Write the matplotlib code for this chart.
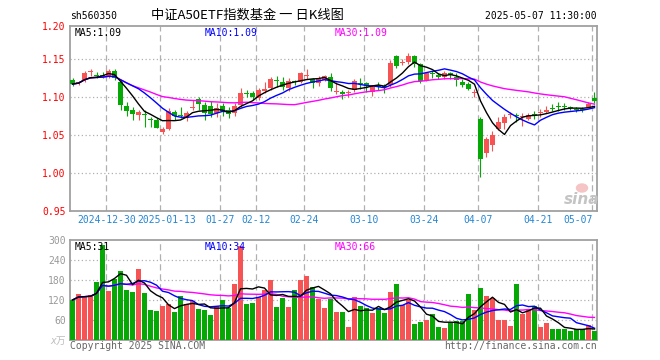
import numpy as np
import pandas as pd
import matplotlib
matplotlib.use('Agg')
import matplotlib.pyplot as plt
from matplotlib.transforms import blended_transform_factory, ScaledTranslation
from matplotlib.patches import Ellipse

# ---------------- data ----------------
opens = [1.1219,1.1184,1.1228,1.1325,1.1285,1.1285,1.1268,1.1342,1.1193,1.0882,
         1.0829,1.0763,1.0768,1.0711,1.0697,1.0544,1.0579,1.0803,1.0754,1.0719,
         1.0860,1.0974,1.0895,1.0882,1.0785,1.0882,1.0829,1.0785,1.0895,1.1053,
         1.1048,1.0991,1.1083,1.1114,1.1219,1.1193,1.1114,1.1211,1.1197,1.1281,
         1.1232,1.1180,1.1228,1.1259,1.1066,1.1070,1.1057,1.1088,1.1189,1.1189,
         1.1070,1.1158,1.1140,1.1162,1.1539,1.1452,1.1465,1.1544,1.1434,1.1228,
         1.1311,1.1294,1.1263,1.1311,1.1268,1.1202,1.1175,1.1057,1.0711,1.0263,
         1.0368,1.0579,1.0653,1.0759,1.0759,1.0737,1.0711,1.0776,1.0794,1.0798,
         1.0855,1.0877,1.0877,1.0864,1.0842,1.0842,1.0873,1.0991]
highs = [1.1250,1.1215,1.1342,1.1368,1.1325,1.1333,1.1368,1.1368,1.1224,1.0939,
         1.0873,1.0829,1.0829,1.0741,1.0719,1.0610,1.0860,1.0829,1.0873,1.0816,
         1.0961,1.1004,1.0939,1.0947,1.0917,1.0925,1.0873,1.0917,1.1114,1.1092,
         1.1083,1.1123,1.1202,1.1259,1.1276,1.1268,1.1254,1.1224,1.1333,1.1364,
         1.1246,1.1276,1.1289,1.1311,1.1202,1.1092,1.1092,1.1237,1.1254,1.1202,
         1.1158,1.1202,1.1171,1.1487,1.1557,1.1500,1.1583,1.1557,1.1452,1.1333,
         1.1342,1.1320,1.1342,1.1333,1.1311,1.1232,1.1202,1.1101,1.0732,1.0478,
         1.0553,1.0732,1.0776,1.0807,1.0785,1.0785,1.0785,1.0811,1.0838,1.0882,
         1.0904,1.0930,1.0921,1.0886,1.0868,1.0868,1.0930,1.1061]
lows = [1.1145,1.1162,1.1202,1.1281,1.1246,1.1246,1.1246,1.1224,1.0829,1.0754,
        1.0697,1.0697,1.0610,1.0610,1.0588,1.0509,1.0566,1.0697,1.0719,1.0684,
        1.0829,1.0829,1.0697,1.0741,1.0741,1.0750,1.0724,1.0750,1.0873,1.1004,
        1.0961,1.0961,1.1048,1.1092,1.1136,1.1092,1.1083,1.1158,1.1189,1.1232,
        1.1123,1.1145,1.1211,1.1083,1.1035,1.0969,1.1004,1.1070,1.1101,1.1070,
        1.1013,1.1092,1.1057,1.1136,1.1377,1.1421,1.1434,1.1399,1.1189,1.1215,
        1.1246,1.1232,1.1232,1.1232,1.1149,1.1136,1.1092,1.1004,0.9952,1.0215,
        1.0294,1.0566,1.0583,1.0719,1.0675,1.0623,1.0697,1.0706,1.0732,1.0785,
        1.0820,1.0820,1.0829,1.0829,1.0807,1.0798,1.0864,1.0917]
closes = [1.1171,1.1193,1.1316,1.1333,1.1276,1.1276,1.1342,1.1246,1.0895,1.0816,
          1.0781,1.0803,1.0759,1.0702,1.0596,1.0579,1.0816,1.0750,1.0746,1.0789,
          1.0868,1.0908,1.0785,1.0776,1.0851,1.0816,1.0776,1.0882,1.1048,1.1044,
          1.0996,1.1092,1.1105,1.1237,1.1211,1.1136,1.1211,1.1193,1.1316,1.1289,
          1.1180,1.1232,1.1272,1.1114,1.1075,1.1035,1.1066,1.1211,1.1175,1.1145,
          1.1132,1.1127,1.1132,1.1452,1.1408,1.1461,1.1544,1.1434,1.1211,1.1311,
          1.1303,1.1259,1.1320,1.1285,1.1219,1.1162,1.1110,1.1066,1.0184,1.0447,
          1.0496,1.0667,1.0741,1.0768,1.0746,1.0746,1.0763,1.0768,1.0803,1.0829,
          1.0846,1.0868,1.0868,1.0855,1.0833,1.0833,1.0912,1.0952]
volumes = [120,138,132,135,174,284,147,183,207,150,
           144,213,141,90,87,102,108,84,132,108,
           117,93,90,75,102,120,96,168,282,108,
           111,128,150,180,99,126,99,150,180,192,
           159,123,96,123,84,84,39,129,102,96,
           81,96,81,144,168,105,120,48,54,60,
           78,39,36,54,57,57,138,90,156,132,
           126,60,60,42,168,78,90,102,39,51,
           33,33,33,27,33,33,45,27]

tick_idx = [6, 15, 25, 31, 39, 49, 59, 68, 78, 87]
tick_labels = ['2024-12-30', '2025-01-13', '01-27', '02-12', '02-24',
               '03-10', '03-24', '04-07', '04-21', '05-07']
price_ticks = [1.15, 1.10, 1.05, 1.00, 0.95]
price_tick_labels = ['1.15', '1.10', '1.05', '1.00', '0.95']
price_top_label = '1.20'
vol_ticks = [60, 120, 180, 240, 300]
vol_tick_labels = ['60', '120', '180', '240', '300']
vol_ma_labels = ['MA5:31', 'MA10:34', 'MA30:66']

code = 'sh560350'
title = '中证A50ETF指数基金 一 日K线图'
stamp = '2025-05-07 11:30:00'

# ---------------- styling ----------------
RED = '#f65454'
GREEN = '#06a806'
FRAME = '#a0a0a0'
GRID = '#b0b0b0'
MONO = 'DejaVu Sans Mono'
CJK = ['Noto Sans CJK SC', 'DejaVu Sans']
W, H = 660, 360

df = pd.DataFrame({'o': opens, 'h': highs, 'l': lows, 'c': closes, 'v': volumes})
n = len(df)
x = np.arange(n)
ma = {k: df['c'].rolling(k, min_periods=1).mean() for k in (5, 10, 30)}
vma = {k: df['v'].rolling(k, min_periods=1).mean() for k in (5, 10, 30)}
up = (df['c'] >= df['o']).values
cols = np.where(up, RED, GREEN)

fig = plt.figure(figsize=(W / 100, H / 100), dpi=100)
fig.patch.set_facecolor('white')

def fpos(l, t, r, b):
    return [l / W, 1 - b / H, (r - l) / W, (b - t) / H]

def FT(px, py, s, **kw):
    kw.setdefault('family', MONO)
    kw.setdefault('size', 7)
    return fig.text(px / W, 1 - py / H, s, **kw)

ax1 = fig.add_axes(fpos(70, 26, 597, 211))
ax2 = fig.add_axes(fpos(70, 240, 597, 340))

xl = (-0.4167, n - 1 + 0.4167)
ppx = 0.05 / 38.0  # price per pixel
ax1.set_xlim(*xl)
ax1.set_ylim(0.95, 0.95 + 185 * ppx)
ax2.set_xlim(*xl)
ax2.set_ylim(0, 300)

for ax in (ax1, ax2):
    for s in ax.spines.values():
        s.set_color(FRAME)
        s.set_linewidth(1.3)
    ax.set_xticks([])
    ax.tick_params(axis='y', length=0, pad=3, labelsize=7)
    for g in tick_idx:
        ax.axvline(g - 0.35, color=GRID, lw=0.9, ls=(0, (5, 3)), zorder=0)

for yv in price_ticks[:-1]:
    ax1.axhline(yv, color=GRID, lw=0.9, ls=(0, (1, 2)), zorder=0)
for yv in vol_ticks[:-1]:
    ax2.axhline(yv, color=GRID, lw=0.9, ls=(0, (1, 2)), zorder=0)

ax1.set_yticks([ax1.get_ylim()[1]] + price_ticks)
ax1.set_yticklabels([price_top_label] + price_tick_labels, family=MONO, color='#ff0000')
ax2.set_yticks(vol_ticks)
ax2.set_yticklabels(vol_tick_labels, family=MONO, color='#999999')

# candles
ax1.vlines(x, df['l'], df['h'], colors=cols, lw=0.8, zorder=3)
body_b = np.minimum(df['o'], df['c'])
body_h = np.maximum(np.abs(df['c'] - df['o']), 0.9 * ppx)
ax1.bar(x, body_h, bottom=body_b, width=0.83, color=cols, linewidth=0, zorder=4)

ax1.plot(x, ma[30], color='#ff00ff', lw=1.0, zorder=5)
ax1.plot(x, ma[10], color='#0000ff', lw=1.0, zorder=5)
ax1.plot(x, ma[5], color='#000000', lw=1.0, zorder=6)

# volume
ax2.bar(x, df['v'], width=0.83, color=cols, linewidth=0, zorder=3)
ax2.plot(x, vma[30], color='#ff00ff', lw=1.0, zorder=5)
ax2.plot(x, vma[10], color='#0000ff', lw=1.0, zorder=5)
ax2.plot(x, vma[5], color='#000000', lw=1.0, zorder=6)

# header
FT(70, 16, code, ha='left', va='center')
FT(247, 15, title, ha='center', va='center', family=CJK, size=9.5)
FT(597, 16, stamp, ha='right', va='center')

# MA labels
ma_cols = ['#000000', '#0000ff', '#ff00ff']
ma_x = [75, 205, 335]
for k, cx, cc in zip((5, 10, 30), ma_x, ma_cols):
    FT(cx, 33, f'MA{k}:{ma[k].iloc[-1]:.2f}', ha='left', va='center', color=cc)
for lab, cx, cc in zip(vol_ma_labels, ma_x, ma_cols):
    FT(cx, 246.5, lab, ha='left', va='center', color=cc)

# date labels
tr = blended_transform_factory(ax1.transData, fig.transFigure)
for j, (g, lab) in enumerate(zip(tick_idx, tick_labels)):
    t = tr
    ha = 'center'
    if j == 1:
        t = tr + ScaledTranslation(6 / 100, 0, fig.dpi_scale_trans)
    if j == len(tick_idx) - 1:
        ha = 'right'
    fig.text(g - 0.35, 1 - 220 / H, lab, transform=t, ha=ha, va='center',
             family=MONO, size=7, color='#2486d4')

# footer
FT(66, 341, 'x万', ha='right', va='center', family=[MONO, 'Noto Sans CJK SC'],
   color='#bdbdbd', style='italic')
FT(70, 346, 'Copyright 2025 SINA.COM', ha='left', va='center', color='#666666')
FT(597, 346, 'http://finance.sina.com.cn', ha='right', va='center', color='#666666')

# sina watermark
fig.add_artist(Ellipse((582 / W, 1 - 188 / H), 11 / W, 8 / H,
                       transform=fig.transFigure, color='#f5c4c4', zorder=1))
FT(582, 199, 'sina', ha='center', va='center', family='DejaVu Sans', size=11,
   weight='bold', style='italic', color='#c4c4c4')

fig.savefig('out.png', dpi=100, facecolor='white')
